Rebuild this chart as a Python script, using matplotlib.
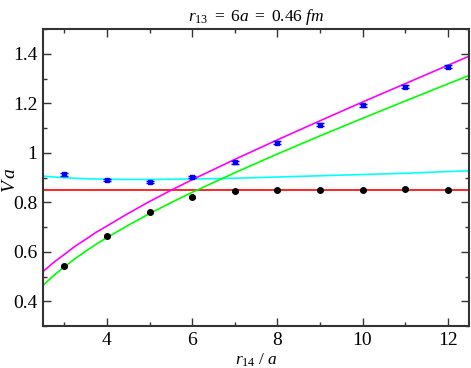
import matplotlib
matplotlib.use('Agg')
import matplotlib.pyplot as plt
from matplotlib.ticker import MultipleLocator, FormatStrFormatter

plt.rcParams['font.family'] = ['Liberation Serif', 'DejaVu Serif']
plt.rcParams['mathtext.fontset'] = 'custom'
plt.rcParams['mathtext.rm'] = 'Liberation Serif'
plt.rcParams['mathtext.it'] = 'Liberation Serif:italic'

# data points
r14 = [3, 4, 5, 6, 7, 8, 9, 10, 11, 12]
v_blue = [0.914, 0.890, 0.882, 0.903, 0.962, 1.041, 1.114, 1.191, 1.266, 1.347]
err_blue = [0.006, 0.005, 0.005, 0.005, 0.006, 0.006, 0.006, 0.006, 0.006, 0.006]
v_black = [0.542, 0.665, 0.760, 0.823, 0.847, 0.850, 0.850, 0.851, 0.852, 0.851]
err_black = [0.004, 0.004, 0.004, 0.004, 0.004, 0.004, 0.004, 0.004, 0.004, 0.004]

# fit curves
r_curve = [2.5, 2.75, 3, 3.25, 3.5, 3.75, 4, 4.5, 5, 5.5, 6, 7, 8, 9, 10, 11, 12, 12.5]
v_magenta = [0.520, 0.557, 0.589, 0.622, 0.650, 0.679, 0.704, 0.755, 0.803, 0.848,
             0.891, 0.973, 1.052, 1.129, 1.205, 1.279, 1.353, 1.390]
v_green = [0.464, 0.504, 0.539, 0.572, 0.602, 0.631, 0.657, 0.707, 0.754, 0.798,
           0.840, 0.919, 0.995, 1.068, 1.139, 1.209, 1.278, 1.312]
v_cyan = [0.906, 0.902, 0.899, 0.897, 0.895, 0.894, 0.893, 0.892, 0.892, 0.893,
          0.894, 0.897, 0.902, 0.907, 0.912, 0.917, 0.924, 0.927]
v_red = 0.849

fig = plt.figure(figsize=(4.71, 3.68), dpi=100)
ax = fig.add_axes([0.0913, 0.1141, 0.9045, 0.8071])

ax.plot(r_curve, v_cyan, color='#00ffff', lw=1.2)
ax.axhline(v_red, color='#ff0000', lw=1.2)
ax.plot(r_curve, v_magenta, color='#ff00ff', lw=1.2)
ax.plot(r_curve, v_green, color='#00ff00', lw=1.2)

ax.errorbar(r14, v_blue, yerr=err_blue, fmt='s', color='#0000ff',
            ms=3.5, capsize=3, elinewidth=1, capthick=1, zorder=5)
ax.errorbar(r14, v_black, yerr=err_black, fmt='o', color='black',
            ms=4, capsize=2.5, elinewidth=1, capthick=1, zorder=5)

ax.set_xlim(2.5, 12.5)
ax.set_ylim(0.3, 1.5)
ax.xaxis.set_major_locator(MultipleLocator(2))
ax.xaxis.set_minor_locator(MultipleLocator(1))
ax.yaxis.set_major_locator(MultipleLocator(0.2))
ax.yaxis.set_minor_locator(MultipleLocator(0.1))
ax.yaxis.set_major_formatter(FormatStrFormatter('%g'))
ax.xaxis.set_major_formatter(FormatStrFormatter('%g'))

ax.tick_params(which='both', direction='in', top=True, right=True,
               labelsize=14, color='#333333', pad=4)
ax.tick_params(which='major', length=6, width=1)
ax.tick_params(which='minor', length=3, width=1)
for s in ax.spines.values():
    s.set_linewidth(1.5)
    s.set_color('#333333')

ax.set_title(r'$\mathit{r_{13}\ =\ 6a\ =\ 0.46\ fm}$', fontsize=12.5, pad=6)
ax.set_xlabel(r'$\mathit{r_{14}\ /\ a}$', fontsize=12.5)
ax.xaxis.set_label_coords(0.5, -0.085)
ax.set_ylabel(r'$V\,a$', fontsize=14)
ax.yaxis.set_label_coords(-0.056, 0.49)

fig.savefig('out.png', dpi=100)
